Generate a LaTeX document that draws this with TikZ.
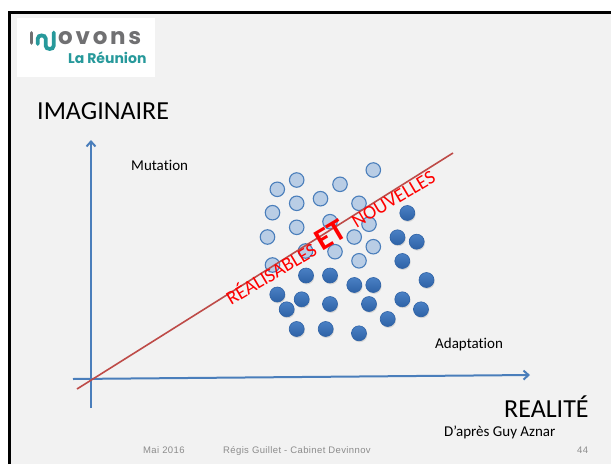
\documentclass[tikz,border=0pt]{standalone}
\usepackage{fontspec}
\setmainfont{Carlito}[Ligatures=NoCommon]
\newfontfamily\footfont{Liberation Sans}[LetterSpace=4]
\newfontfamily\logofont{Poppins}
\newfontfamily\logowide{Poppins}[LetterSpace=12]
\usepackage{graphicx}
\usetikzlibrary{arrows.meta,shadows}
\definecolor{slidebg}{HTML}{F2F2F2}
\definecolor{axisblue}{HTML}{4A7EBB}
\definecolor{linered}{HTML}{BE4B48}
\definecolor{dotlight}{HTML}{B9CDE5}
\definecolor{dotdarktop}{HTML}{4A80C4}
\definecolor{dotdarkbot}{HTML}{2E62A6}
\definecolor{logogray}{HTML}{707072}
\definecolor{logoteal}{HTML}{27999B}
\definecolor{footgray}{HTML}{8C8C8C}
\begin{document}
\begin{tikzpicture}[x=1pt,y=-1pt,
  txt/.style={inner sep=0pt, anchor=base west},
  redtxt/.style={txt, text=red, rotate=30.8},
  lightc/.style={circle, minimum size=14.5pt, inner sep=0pt, fill=dotlight, draw=axisblue, line width=1.1pt},
  darkc/.style={circle, minimum size=15pt, inner sep=0pt, top color=dotdarktop, bottom color=dotdarkbot, draw=dotdarkbot, line width=0.6pt,
     drop shadow={opacity=0.25, shadow xshift=0.8pt, shadow yshift=-1.4pt}},
  axisline/.style={axisblue, line width=2pt, -{Straight Barb[length=5pt,width=9pt,line width=2pt]}},
  diagline/.style={linered, line width=1.6pt}]
\useasboundingbox (0,0) rectangle (611,464);
\fill[white] (0,0) rectangle (611,464);
\fill[slidebg] (9.5,12.5) rectangle (611,464);
\draw[line width=3pt] (9.5,464) -- (9.5,12.5) -- (611,12.5);
% logo
\fill[white] (17,18) rectangle (155,77);
\draw[logogray, line width=3.6pt, line cap=round] (31.5,32.8) -- (31.5,43);
\draw[logoteal, line width=3.8pt, line cap=round] (37.7,44) -- (37.7,38.6) to[out=90,in=90,looseness=1.35] (45.7,38.6) -- (45.7,45.8) to[out=-90,in=-90,looseness=1.35] (53.7,45.8) -- (53.7,32.5);
\node[txt, text=logogray, font=\logowide\bfseries\fontsize{23}{23}\selectfont] (logo) at (58,44) {ovons};
\node[txt, text=logoteal, font=\logofont\bfseries\fontsize{14}{14}\selectfont] (reunion) at (68,63) {La Réunion};
% titles
\node[txt, font=\fontsize{26}{26}\selectfont] (imag) at (37,119) {IMAGINAIRE};
\node[txt, font=\fontsize{26}{26}\selectfont] (real) at (504,417) {REALITÉ};
\node[txt, font=\fontsize{15}{15}\selectfont] (mut) at (131,170) {Mutation};
\node[txt, font=\fontsize{15}{15}\selectfont] (adapt) at (435,348) {Adaptation};
\node[txt, font=\fontsize{15}{15}\selectfont] (aznar) at (444,436) {D’après Guy Aznar};
% footer
\node[txt, text=footgray, font=\footfont\fontsize{9.5}{9.5}\selectfont] (date) at (143,453) {Mai 2016};
\node[txt, text=footgray, font=\footfont\fontsize{9.5}{9.5}\selectfont] (auth) at (223,453) {Régis Guillet - Cabinet Devinnov};
\node[txt, text=footgray, font=\footfont\fontsize{9.5}{9.5}\selectfont] (page) at (577,453) {44};
% axes
\coordinate (yb) at (91,408); \coordinate (yt) at (91,140);
\coordinate (xl) at (73,379); \coordinate (xr) at (530,375);
\coordinate (rl) at (77,389); \coordinate (rr) at (453,153);
\draw[axisline] (yb) -- (yt);
\draw[axisline] (xl) -- (xr);
% dots
\foreach \p [count=\i] in {(277.3,189.3),(296.7,180),(340,184.3),(373.3,170),(296.7,203.3),(320.5,198.7),(359,203.3),(272.5,212.7),(296.7,227.3),(330,221.7),(369,224.2),(267.5,237),(354.2,237),(373.3,246.7),(305.5,251),(335,251.7),(359,260.8),(272.5,265)}
  \node[lightc] (l\i) at \p {};
\foreach \p [count=\i] in {(407.3,213),(397.5,237.3),(416.7,241.7),(402.3,261),(306,275.5),(330,275.5),(354.3,285),(373.3,285),(426.5,280),(277.3,294.5),(301.7,299.3),(330,304),(369,304),(402.3,299.3),(286.7,309.3),(421,309.3),(387.7,319),(296.7,329),(325.7,329),(359,333.3)}
  \node[darkc] (d\i) at \p {};
\draw[diagline] (rl) -- (rr);
\node[redtxt, font=\fontsize{19.5}{19.5}\selectfont] (rea1) at (231,306) {RÉALISABLES};
\node[redtxt, font=\fontsize{31}{31}\selectfont\bfseries] (rea2) at (322,251.5) {ET};
\node[redtxt, font=\fontsize{19.5}{19.5}\selectfont] (rea3) at (356.5,228.5) {NOUVELLES};
\end{tikzpicture}
\end{document}
